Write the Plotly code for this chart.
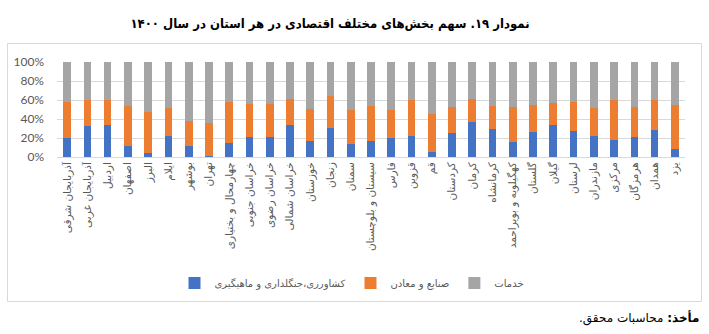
import plotly.graph_objects as go

provinces = ["آذربایجان شرقی", "آذربایجان غربی", "اردبیل", "اصفهان", "البرز", "ایلام", "بوشهر", "تهران",
             "چهارمحال و بختیاری", "خراسان جنوبی", "خراسان رضوی", "خراسان شمالی", "خوزستان", "زنجان",
             "سمنان", "سیستان و بلوچستان", "فارس", "قزوین", "قم", "کردستان", "کرمان", "کرمانشاه",
             "کهگیلویه و بویراحمد", "گلستان", "گیلان", "لرستان", "مازندران", "مرکزی", "هرمزگان", "همدان", "یزد"]

agriculture = [19.6, 32.5, 33.9, 11.2, 3.8, 22.4, 11.2, 1.4, 14.3, 20.6, 20.6, 33.2, 16.8, 30.4, 13.6, 16.4,
               19.9, 21.7, 5.2, 24.8, 36.4, 29.0, 15.7, 26.2, 33.2, 27.3, 21.7, 17.5, 20.6, 28.3, 8.4]
industry = [38.8, 27.3, 26.6, 42.3, 43.1, 29.7, 26.6, 34.6, 44.1, 35.0, 35.0, 27.6, 33.5, 34.3, 35.7, 37.1,
            29.8, 38.8, 40.3, 27.6, 24.4, 24.5, 36.7, 28.3, 23.4, 30.7, 29.7, 42.6, 31.8, 32.2, 46.1]
services = [41.6, 40.2, 39.5, 46.5, 53.1, 47.9, 62.2, 64.0, 41.6, 44.4, 44.4, 39.2, 49.7, 35.3, 50.7, 46.5,
            50.3, 39.5, 54.5, 47.6, 39.2, 46.5, 47.6, 45.5, 43.4, 42.0, 48.6, 39.9, 47.6, 39.5, 45.5]

y_ticks = [0, 20, 40, 60, 80, 100]
y_tick_labels = ["0%", "20%", "40%", "60%", "80%", "100%"]

series_names = ["کشاورزی،جنگلداری و ماهیگیری", "صنایع و معادن", "خدمات"]
colors = ["#4472C4", "#ED7D31", "#A5A5A5"]

title_text = "نمودار ۱۹. سهم بخش‌های مختلف اقتصادی در هر استان در سال ۱۴۰۰"
source_text = "<b>مأخذ:</b> محاسبات محقق.\u200f"

fa_font = "DejaVu Sans"

fig = go.Figure()
for name, vals, col in zip(series_names, [agriculture, industry, services], colors):
    fig.add_trace(go.Bar(x=provinces, y=vals, name=name, marker=dict(color=col, line=dict(width=0))))

# plot area in pixels: x 57..685, y 62..157
L, R, T, B = 57, 685, 62, 157
W, H = R - L, B - T
def px(x):
    return (x - L) / W
def py(y):
    return (B - y) / H

fig.update_layout(
    width=709, height=334,
    margin=dict(l=L, r=709 - R, t=T, b=334 - B, pad=0),
    paper_bgcolor="white", plot_bgcolor="white",
    barmode="stack", bargap=0.62,
    showlegend=True,
    legend=dict(orientation="h", x=px(352), y=py(283), xanchor="center", yanchor="middle",
                traceorder="normal", font=dict(family=fa_font, size=10, color="#595959"),
                itemwidth=30, tracegroupgap=0),
    title=dict(text="<b>" + title_text + "</b>", x=px(330), xref="paper", xanchor="center",
               y=1 - 23 / 334, yref="container", yanchor="middle",
               font=dict(family="DejaVu Sans Condensed, DejaVu Sans", size=13, color="black")),
    xaxis=dict(tickangle=-90, tickfont=dict(family=fa_font, size=10.5, color="#595959"),
               showline=True, linecolor="#D9D9D9", linewidth=1, ticks="", showgrid=False,
               fixedrange=True),
    yaxis=dict(range=[0, 100], tickmode="array", tickvals=y_ticks, ticktext=y_tick_labels,
               tickfont=dict(family="Lato", size=12, color="#595959"),
               showgrid=True, gridcolor="#D9D9D9", gridwidth=1, zeroline=False, showline=False,
               ticks="", ticklabelstandoff=12),
    shapes=[dict(type="rect", xref="paper", yref="paper", x0=px(7.5), x1=px(701.5), y0=py(301.5), y1=py(43.5),
                 line=dict(color="#D9D9D9", width=1), fillcolor="rgba(0,0,0,0)", layer="below")],
    annotations=[dict(text=source_text, xref="paper", yref="paper", x=px(701), y=py(318),
                      xanchor="right", yanchor="middle", showarrow=False,
                      font=dict(family=fa_font, size=12, color="black"))],
)

fig.write_html("out.html")
